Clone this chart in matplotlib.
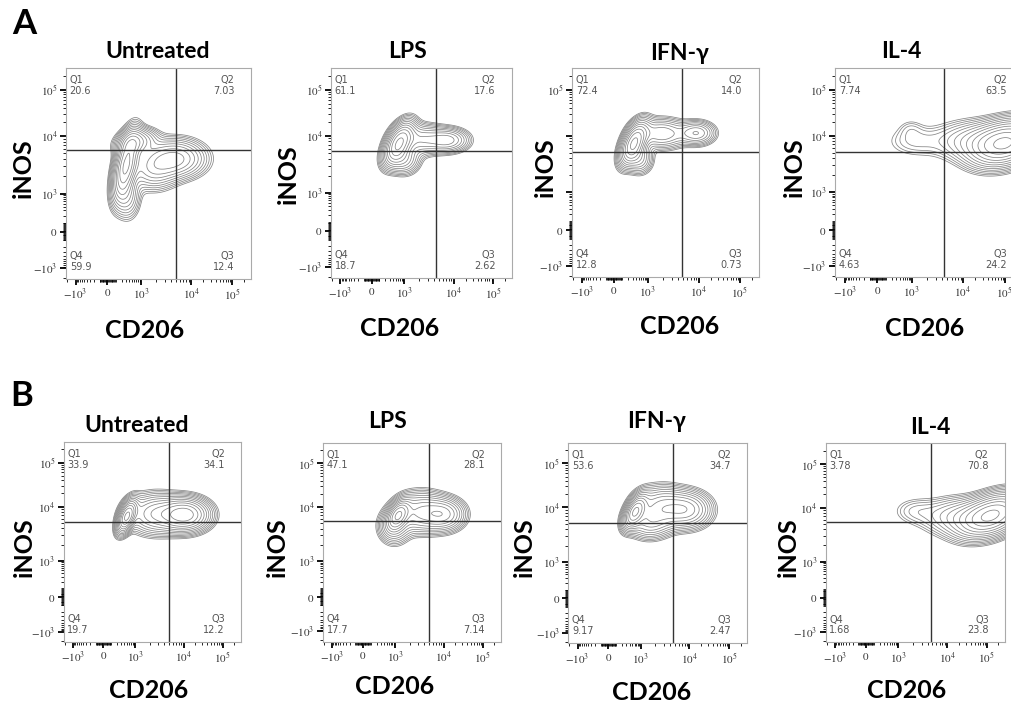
import numpy as np
import matplotlib
matplotlib.use("Agg")
import matplotlib.pyplot as plt
from matplotlib.ticker import FixedLocator, FixedFormatter

plt.rcParams["mathtext.fontset"] = "stix"

# ---- data ---------------------------------------------------------------
treatments = ["Untreated", "LPS", "IFN-γ", "IL-4"]

# quadrant percentages
A_q1 = ["20.6", "61.1", "72.4", "7.74"]
A_q2 = ["7.03", "17.6", "14.0", "63.5"]
A_q3 = ["12.4", "2.62", "0.73", "24.2"]
A_q4 = ["59.9", "18.7", "12.8", "4.63"]
B_q1 = ["33.9", "47.1", "53.6", "3.78"]
B_q2 = ["34.1", "28.1", "34.7", "70.8"]
B_q3 = ["12.2", "7.14", "2.47", "23.8"]
B_q4 = ["19.7", "17.7", "9.17", "1.68"]

# quadrant gates (CD206, iNOS)
A_gate_x = [4900, 4500, 4700, 4300]
A_gate_y = [5700, 5400, 5200, 5200]
B_gate_x = [5000, 5000, 4700, 4600]
B_gate_y = [5200, 5400, 5300, 5400]

# populations: (CD206 centre, iNOS centre, spread x, spread y, corr, weight)
A_pops = [
    [(300, 3150, 0.038, 0.085, 0.5, 1.0), (695, 7960, 0.060, 0.035, 0.2, 0.4),
     (4790, 4050, 0.090, 0.050, 0.0, 0.45), (327, 800, 0.040, 0.060, 0.0, 0.2),
     (1740, 2660, 0.075, 0.055, 0.0, 0.25)],
    [(640, 7400, 0.045, 0.055, 0.5, 1.0), (7700, 8400, 0.065, 0.032, 0.0, 0.35),
     (2240, 8670, 0.075, 0.040, 0.0, 0.3), (930, 3900, 0.050, 0.040, 0.0, 0.3)],
    [(330, 7320, 0.040, 0.055, 0.5, 1.0), (9200, 11300, 0.055, 0.032, 0.0, 0.3),
     (1900, 11000, 0.075, 0.040, 0.0, 0.3), (516, 3900, 0.040, 0.040, 0.0, 0.25)],
    [(103000, 7320, 0.100, 0.060, 0.3, 1.0), (21500, 7960, 0.130, 0.055, 0.0, 0.25),
     (1140, 7960, 0.090, 0.045, 0.0, 0.08), (930, 14100, 0.040, 0.030, 0.0, 0.04)],
]
B_pops = [
    [(490, 6560, 0.030, 0.045, 0.5, 1.0), (10900, 7100, 0.075, 0.045, 0.0, 0.85),
     (2660, 7320, 0.090, 0.055, 0.0, 0.4)],
    [(1170, 7150, 0.035, 0.040, 0.4, 1.0), (10300, 7320, 0.065, 0.045, 0.0, 0.5),
     (3420, 7960, 0.080, 0.055, 0.0, 0.5), (930, 4400, 0.050, 0.050, 0.0, 0.3)],
    [(630, 8400, 0.035, 0.045, 0.5, 1.0), (8700, 9100, 0.075, 0.050, 0.0, 0.5),
     (2660, 10300, 0.080, 0.055, 0.0, 0.45), (1470, 5220, 0.070, 0.045, 0.0, 0.3)],
    [(141000, 7320, 0.100, 0.060, 0.4, 1.0), (21500, 6730, 0.120, 0.055, 0.0, 0.25),
     (2200, 8670, 0.075, 0.040, 0.0, 0.07)],
]

major_vals = [-1e3, 0, 1e3, 1e4, 1e5]
major_labels = [r"$-10^3$", r"$0$", r"$10^3$", r"$10^4$", r"$10^5$"]

# ---- biexponential-like display scale ------------------------------------
W_LIN = 150.0
KA = np.arcsinh(np.array(major_vals) / W_LIN)
KU = np.array([0.052, 0.224, 0.405, 0.677, 0.897])


def fwd(v):
    a = np.arcsinh(np.asarray(v, float) / W_LIN)
    u = np.interp(a, KA, KU)
    s0 = (KU[1] - KU[0]) / (KA[1] - KA[0])
    s1 = (KU[-1] - KU[-2]) / (KA[-1] - KA[-2])
    u = np.where(a < KA[0], KU[0] + (a - KA[0]) * s0, u)
    u = np.where(a > KA[-1], KU[-1] + (a - KA[-1]) * s1, u)
    return u


def inv(u):
    u = np.asarray(u, float)
    a = np.interp(u, KU, KA)
    s0 = (KA[1] - KA[0]) / (KU[1] - KU[0])
    s1 = (KA[-1] - KA[-2]) / (KU[-1] - KU[-2])
    a = np.where(u < KU[0], KA[0] + (u - KU[0]) * s0, a)
    a = np.where(u > KU[-1], KA[-1] + (u - KU[-1]) * s1, a)
    return W_LIN * np.sinh(a)


minor_vals = []
for d in [10, 100, 1000, 10000]:
    for k in range(1, 10):
        if d == 10 or d == 100:
            minor_vals += [k * d, -k * d]
        elif k > 1:
            minor_vals.append(k * d)
minor_vals += [-2000, 200000]

# ---- figure ------------------------------------------------------------
FW, FH = 1011, 705
fig = plt.figure(figsize=(FW / 100, FH / 100), dpi=100)


def rect(l, t, r, b):
    return [l / FW, 1 - b / FH, (r - l) / FW, (b - t) / FH]


def ftext(x, y, s, **kw):
    fig.text(x / FW, 1 - y / FH, s, ha="center", va="center", **kw)


A_boxes = [(66, 68, 251, 279), (331, 68, 512, 278), (572, 68, 759, 277), (835, 68, 1024, 277)]
B_boxes = [(63.5, 442, 241, 642), (323, 442.7, 501, 641.7), (568.3, 442.7, 747.3, 643.3),
           (825.7, 443.3, 1005, 642.3)]
A_title = [(158, 51), (408, 52), (680, 53), (901, 52)]
B_title = [(137, 425), (388, 422), (657, 422), (930, 427)]
A_xlab = [(145, 331), (400, 329), (680, 327), (925, 329)]
B_xlab = [(149, 690), (395, 686), (652, 693), (907, 690)]
A_ylab = [(23, 168), (288, 174), (545, 167), (794, 167)]
B_ylab = [(24, 547), (277, 547), (524, 547), (788, 547)]

ug = np.linspace(0, 1, 400)
U, V = np.meshgrid(ug, ug)
Xv, Yv = inv(U), inv(V)
levels = np.geomspace(0.03, 0.9, 13)

bold = dict(family="Lato", weight="bold")


def panel(box, pops, gx, gy, q1, q2, q3, q4, ylabels=major_labels):
    ax = fig.add_axes(rect(*box))
    ax.set_xscale("function", functions=(fwd, inv))
    ax.set_yscale("function", functions=(fwd, inv))
    ax.set_xlim(inv(0.0), inv(1.0))
    ax.set_ylim(inv(0.0), inv(1.0))

    z = np.zeros_like(U)
    for cx, cy, sx, sy, rho, w in pops:
        dx = (U - fwd(cx)) / sx
        dy = (V - fwd(cy)) / sy
        q = (dx * dx - 2 * rho * dx * dy + dy * dy) / (1 - rho * rho)
        z += w * np.exp(-0.5 * q)
    z /= z.max()
    ax.contour(Xv, Yv, z, levels=levels, colors="#858585", linewidths=0.55)

    ax.axvline(gx, color="#333333", lw=1.0)
    ax.axhline(gy, color="#333333", lw=1.0)

    for axis, labs in ((ax.xaxis, major_labels), (ax.yaxis, ylabels)):
        axis.set_major_locator(FixedLocator(major_vals))
        axis.set_major_formatter(FixedFormatter(labs))
        axis.set_minor_locator(FixedLocator(minor_vals))
    ax.tick_params(which="major", direction="out", length=4, width=1.3,
                   labelsize=8, labelcolor="#333333", pad=2)
    ax.tick_params(which="minor", direction="out", length=2, width=0.6)
    for sp in ax.spines.values():
        sp.set_color("#aaaaaa")
        sp.set_linewidth(0.8)

    qs = dict(fontsize=7, color="#555555", linespacing=1.1, transform=ax.transAxes)
    ax.text(0.02, 0.965, "Q1\n" + q1, ha="left", va="top", **qs)
    ax.text(0.91, 0.965, "Q2\n" + q2, ha="right", va="top", **qs)
    ax.text(0.02, 0.035, "Q4\n" + q4, ha="left", va="bottom", **qs)
    ax.text(0.91, 0.035, "Q3\n" + q3, ha="right", va="bottom", **qs)
    return ax


# in the IFN-γ panel of A the 10^4 / 10^3 labels sit under the iNOS label
hidden = [r"$-10^3$", r"$0$", "", "", r"$10^5$"]

for i in range(4):
    panel(A_boxes[i], A_pops[i], A_gate_x[i], A_gate_y[i], A_q1[i], A_q2[i], A_q3[i], A_q4[i],
          ylabels=hidden if i == 2 else major_labels)
    panel(B_boxes[i], B_pops[i], B_gate_x[i], B_gate_y[i], B_q1[i], B_q2[i], B_q3[i], B_q4[i])
    ftext(*A_title[i], treatments[i], fontsize=16.5, **bold)
    ftext(*B_title[i], treatments[i], fontsize=16.5, **bold)
    ftext(*A_xlab[i], "CD206", fontsize=18, **bold)
    ftext(*B_xlab[i], "CD206", fontsize=18, **bold)
    ftext(*A_ylab[i], "iNOS", fontsize=18, rotation=90, **bold)
    ftext(*B_ylab[i], "iNOS", fontsize=18, rotation=90, **bold)

ftext(24, 24, "A", fontsize=25, **bold)
ftext(22, 396, "B", fontsize=25, **bold)

fig.savefig("out.png", dpi=100)
